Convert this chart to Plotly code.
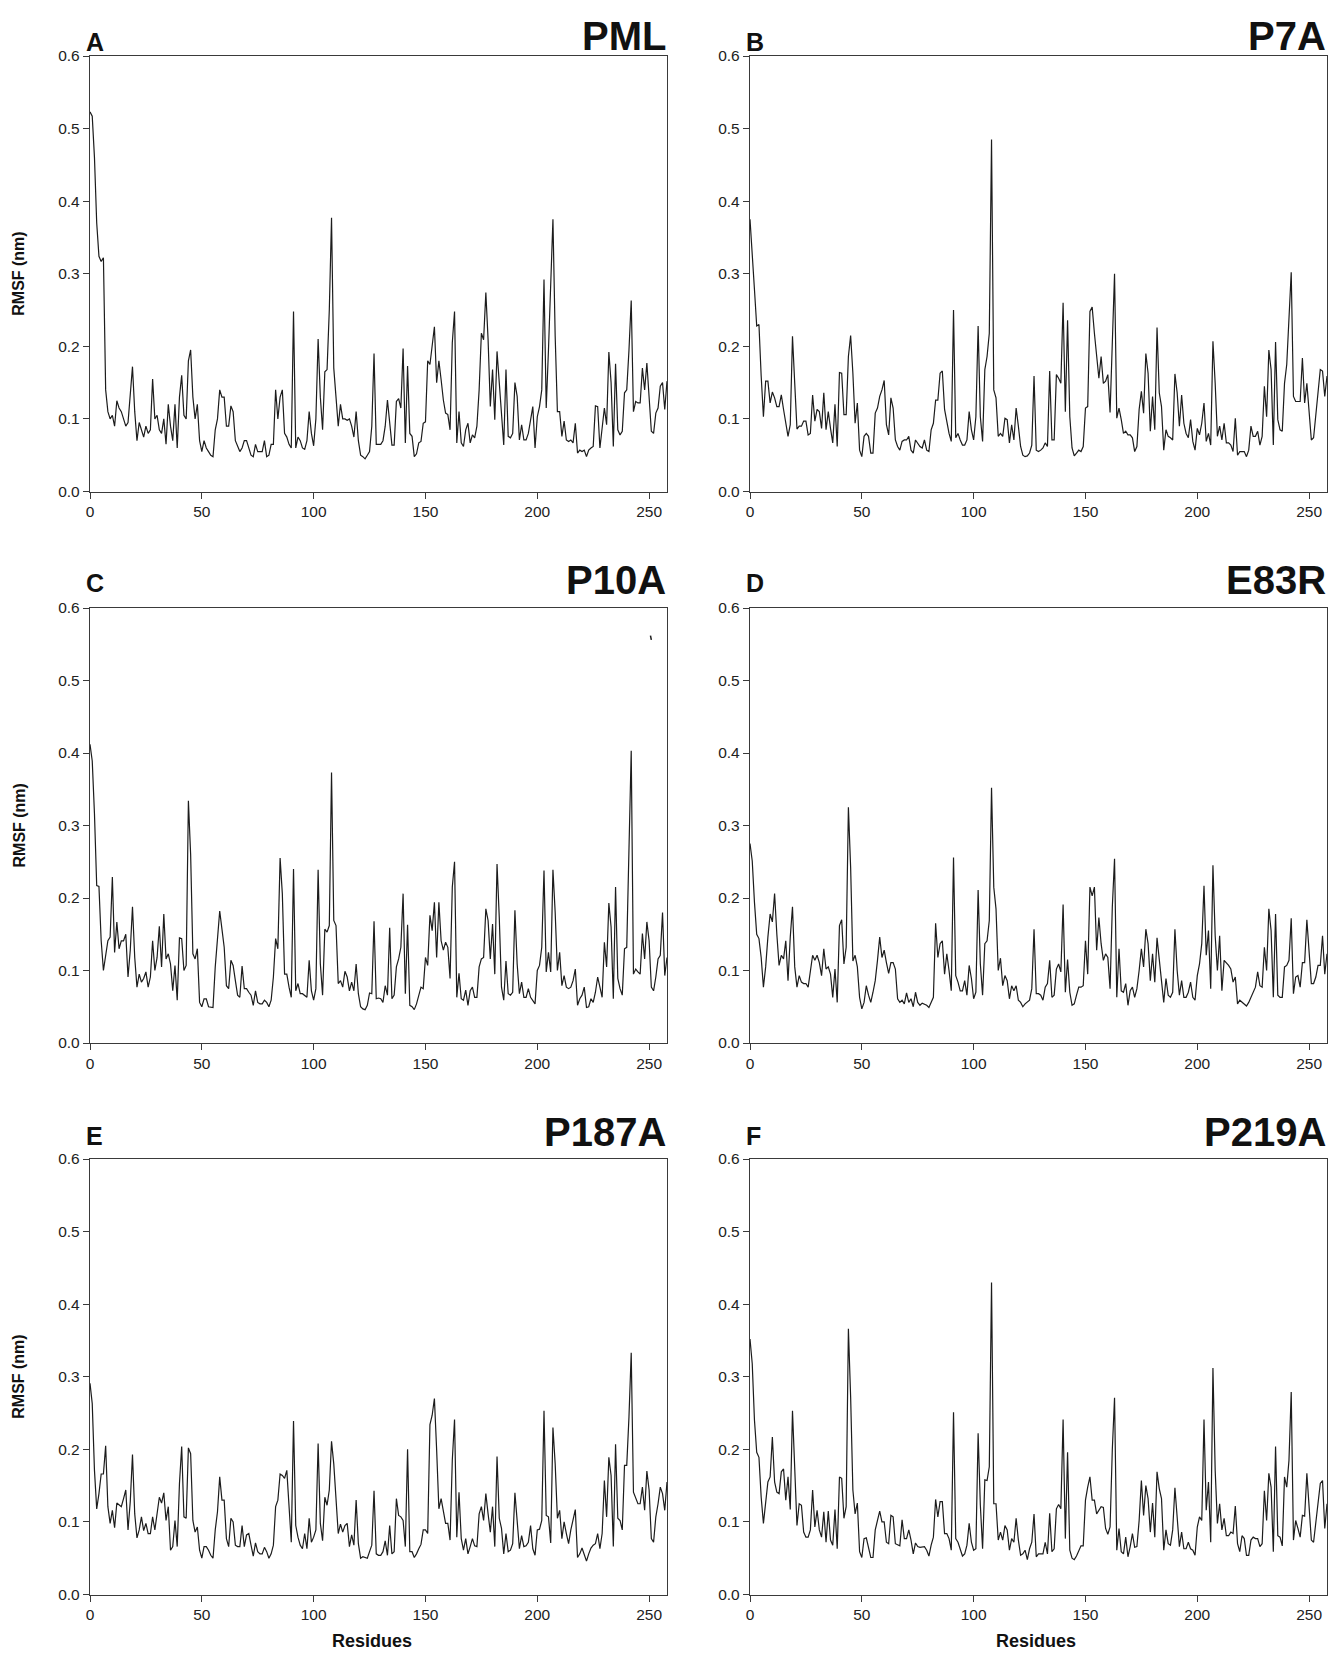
import plotly.graph_objects as go

# ---------------- data (RMSF in nm, per residue) ----------------
RESIDUES = list(range(0, 259))
X_TICKS = [0, 50, 100, 150, 200, 250]
Y_TICKS = [0.0, 0.1, 0.2, 0.3, 0.4, 0.5, 0.6]
Y_TICK_TEXT = ["0.0", "0.1", "0.2", "0.3", "0.4", "0.5", "0.6"]
PANEL_LETTERS = ["A", "B", "C", "D", "E", "F"]
PANEL_NAMES = ["PML", "P7A", "P10A", "E83R", "P187A", "P219A"]

PML = [
    0.523, 0.517, 0.46, 0.37, 0.324, 0.317, 0.322, 0.14, 0.11, 0.10,
    0.105, 0.09, 0.125, 0.115, 0.11, 0.10, 0.09, 0.095, 0.13, 0.172,
    0.11, 0.07, 0.095, 0.085, 0.075, 0.09, 0.08, 0.085, 0.155, 0.10,
    0.105, 0.085, 0.08, 0.10, 0.065, 0.12, 0.09, 0.07, 0.12, 0.06,
    0.13, 0.16, 0.105, 0.10, 0.18, 0.195, 0.13, 0.10, 0.12, 0.07,
    0.055, 0.07, 0.06, 0.055, 0.05, 0.048, 0.085, 0.10, 0.14, 0.13,
    0.13, 0.09, 0.09, 0.118, 0.11, 0.07, 0.062, 0.055, 0.06, 0.07,
    0.07, 0.06, 0.05, 0.048, 0.065, 0.055, 0.055, 0.055, 0.07, 0.048,
    0.05, 0.065, 0.065, 0.14, 0.10, 0.13, 0.14, 0.08, 0.075, 0.065,
    0.06, 0.248, 0.06, 0.075, 0.07, 0.06, 0.058, 0.07, 0.11, 0.08,
    0.063, 0.10, 0.21, 0.13, 0.085, 0.165, 0.168, 0.25, 0.377, 0.17,
    0.13, 0.09, 0.12, 0.10, 0.10, 0.098, 0.10, 0.09, 0.075, 0.11,
    0.07, 0.05, 0.048, 0.045, 0.05, 0.055, 0.09, 0.19, 0.065, 0.065,
    0.065, 0.07, 0.09, 0.126, 0.09, 0.064, 0.064, 0.124, 0.128, 0.115,
    0.197, 0.067, 0.173, 0.08, 0.076, 0.048, 0.052, 0.067, 0.069, 0.094,
    0.096, 0.18, 0.175, 0.20, 0.227, 0.15, 0.18, 0.154, 0.126, 0.108,
    0.106, 0.085, 0.205, 0.248, 0.067, 0.11, 0.067, 0.062, 0.085, 0.094,
    0.067, 0.078, 0.074, 0.090, 0.14, 0.218, 0.209, 0.274, 0.209, 0.117,
    0.168, 0.099, 0.193, 0.15, 0.103, 0.064, 0.168, 0.076, 0.074, 0.080,
    0.15, 0.131, 0.071, 0.092, 0.071, 0.071, 0.080, 0.099, 0.117, 0.06,
    0.103, 0.117, 0.14, 0.292, 0.115, 0.195, 0.274, 0.375, 0.214, 0.11,
    0.11, 0.076, 0.097, 0.071, 0.069, 0.071, 0.067, 0.094, 0.053, 0.057,
    0.055, 0.057, 0.048, 0.057, 0.060, 0.062, 0.118, 0.117, 0.06, 0.089,
    0.115, 0.092, 0.192, 0.15, 0.062, 0.176, 0.085, 0.078, 0.083, 0.136,
    0.14, 0.195, 0.263, 0.11, 0.124, 0.122, 0.122, 0.17, 0.14, 0.177,
    0.136, 0.083, 0.080, 0.108, 0.115, 0.145, 0.15, 0.113, 0.152,
]

P7A = [
    0.375, 0.333, 0.278, 0.228, 0.23, 0.159, 0.103, 0.152, 0.152, 0.122,
    0.137, 0.129, 0.117, 0.117, 0.133, 0.113, 0.097, 0.076, 0.092, 0.214,
    0.149, 0.086, 0.09, 0.09, 0.097, 0.097, 0.078, 0.08, 0.133, 0.097,
    0.113, 0.110, 0.087, 0.136, 0.085, 0.11, 0.087, 0.067, 0.12, 0.062,
    0.164, 0.163, 0.106, 0.106, 0.186, 0.215, 0.163, 0.094, 0.122, 0.057,
    0.048, 0.076, 0.08, 0.076, 0.053, 0.053, 0.108, 0.115, 0.131, 0.14,
    0.153, 0.092, 0.078, 0.129, 0.115, 0.071, 0.062, 0.057, 0.069, 0.071,
    0.071, 0.076, 0.057, 0.053, 0.071, 0.067, 0.062, 0.060, 0.071, 0.057,
    0.055, 0.085, 0.094, 0.126, 0.126, 0.163, 0.166, 0.113, 0.094, 0.08,
    0.069, 0.25, 0.074, 0.08, 0.071, 0.064, 0.064, 0.071, 0.11, 0.085,
    0.071, 0.103, 0.228, 0.103, 0.069, 0.168, 0.186, 0.218, 0.485, 0.14,
    0.129, 0.076, 0.08, 0.076, 0.101, 0.099, 0.067, 0.092, 0.071, 0.115,
    0.090, 0.062, 0.05, 0.048, 0.049, 0.053, 0.064, 0.159, 0.057, 0.055,
    0.057, 0.060, 0.067, 0.062, 0.166, 0.071, 0.071, 0.161, 0.156, 0.149,
    0.26, 0.11, 0.236, 0.103, 0.06, 0.049, 0.053, 0.057, 0.055, 0.062,
    0.115, 0.117, 0.248, 0.254, 0.218, 0.184, 0.156, 0.186, 0.149, 0.152,
    0.161, 0.109, 0.214, 0.30, 0.101, 0.115, 0.099, 0.08, 0.083, 0.078,
    0.078, 0.074, 0.055, 0.062, 0.113, 0.138, 0.108, 0.19, 0.163, 0.083,
    0.131, 0.085, 0.226, 0.136, 0.117, 0.057, 0.085, 0.076, 0.074, 0.071,
    0.162, 0.136, 0.09, 0.133, 0.094, 0.08, 0.074, 0.099, 0.069, 0.057,
    0.087, 0.078, 0.094, 0.122, 0.069, 0.08, 0.064, 0.207, 0.149, 0.076,
    0.090, 0.071, 0.094, 0.067, 0.067, 0.064, 0.055, 0.101, 0.05, 0.055,
    0.055, 0.055, 0.048, 0.057, 0.09, 0.076, 0.076, 0.083, 0.064, 0.076,
    0.145, 0.103, 0.195, 0.168, 0.064, 0.206, 0.099, 0.085, 0.083, 0.149,
    0.175, 0.232, 0.302, 0.131, 0.124, 0.124, 0.124, 0.184, 0.122, 0.149,
    0.113, 0.071, 0.074, 0.103, 0.131, 0.168, 0.166, 0.131, 0.159,
]

P10A = [
    0.412, 0.389, 0.316, 0.217, 0.216, 0.141, 0.10, 0.118, 0.141, 0.146,
    0.229, 0.125, 0.167, 0.13, 0.141, 0.141, 0.15, 0.091, 0.128, 0.188,
    0.118, 0.077, 0.095, 0.084, 0.089, 0.098, 0.077, 0.091, 0.141, 0.10,
    0.118, 0.161, 0.105, 0.178, 0.116, 0.123, 0.109, 0.072, 0.107, 0.059,
    0.145, 0.144, 0.10, 0.107, 0.334, 0.26, 0.123, 0.116, 0.13, 0.056,
    0.05, 0.061, 0.061, 0.05, 0.05, 0.049, 0.105, 0.141, 0.182, 0.157,
    0.132, 0.079, 0.075, 0.114, 0.107, 0.086, 0.066, 0.063, 0.106, 0.075,
    0.075, 0.07, 0.066, 0.052, 0.072, 0.056, 0.054, 0.054, 0.059, 0.056,
    0.05, 0.059, 0.091, 0.144, 0.13, 0.255, 0.206, 0.095, 0.095, 0.077,
    0.063, 0.24, 0.072, 0.082, 0.068, 0.068, 0.066, 0.063, 0.114, 0.072,
    0.059, 0.075, 0.239, 0.109, 0.066, 0.157, 0.153, 0.162, 0.373, 0.169,
    0.162, 0.082, 0.086, 0.077, 0.099, 0.091, 0.072, 0.084, 0.072, 0.109,
    0.068, 0.05, 0.047, 0.046, 0.052, 0.069, 0.068, 0.168, 0.061, 0.062,
    0.061, 0.056, 0.079, 0.066, 0.159, 0.061, 0.066, 0.105, 0.116, 0.132,
    0.206, 0.068, 0.163, 0.052, 0.05, 0.046, 0.054, 0.066, 0.077, 0.075,
    0.118, 0.107, 0.176, 0.155, 0.194, 0.118, 0.194, 0.141, 0.128, 0.139,
    0.132, 0.089, 0.215, 0.25, 0.063, 0.096, 0.061, 0.059, 0.073, 0.052,
    0.072, 0.077, 0.063, 0.063, 0.105, 0.116, 0.118, 0.185, 0.169, 0.116,
    0.164, 0.095, 0.247, 0.173, 0.077, 0.059, 0.113, 0.068, 0.066, 0.07,
    0.183, 0.109, 0.068, 0.084, 0.063, 0.063, 0.075, 0.063, 0.059, 0.054,
    0.10, 0.107, 0.132, 0.238, 0.098, 0.125, 0.098, 0.239, 0.18, 0.10,
    0.125, 0.079, 0.093, 0.077, 0.075, 0.077, 0.086, 0.102, 0.052, 0.061,
    0.066, 0.077, 0.049, 0.05, 0.061, 0.056, 0.07, 0.091, 0.077, 0.063,
    0.139, 0.105, 0.193, 0.16, 0.061, 0.215, 0.089, 0.075, 0.066, 0.13,
    0.132, 0.265, 0.403, 0.095, 0.102, 0.098, 0.095, 0.151, 0.116, 0.167,
    0.141, 0.077, 0.072, 0.091, 0.116, 0.121, 0.18, 0.093, 0.118,
]
# small stray mark visible in panel C
P10A_MARK_X = [250.6, 251.0]
P10A_MARK_Y = [0.562, 0.556]

E83R = [
    0.275, 0.251, 0.194, 0.15, 0.144, 0.118, 0.077, 0.105, 0.146, 0.178,
    0.167, 0.206, 0.15, 0.107, 0.121, 0.116, 0.141, 0.086, 0.146, 0.188,
    0.105, 0.077, 0.093, 0.084, 0.082, 0.082, 0.077, 0.10, 0.121, 0.114,
    0.121, 0.111, 0.093, 0.13, 0.102, 0.105, 0.095, 0.063, 0.102, 0.056,
    0.162, 0.17, 0.109, 0.132, 0.325, 0.242, 0.113, 0.121, 0.105, 0.063,
    0.047, 0.056, 0.079, 0.066, 0.056, 0.07, 0.086, 0.114, 0.146, 0.118,
    0.128, 0.111, 0.096, 0.111, 0.111, 0.102, 0.061, 0.056, 0.059, 0.054,
    0.069, 0.056, 0.061, 0.05, 0.07, 0.056, 0.052, 0.055, 0.054, 0.052,
    0.049, 0.056, 0.063, 0.165, 0.118, 0.137, 0.141, 0.095, 0.123, 0.10,
    0.072, 0.256, 0.093, 0.084, 0.072, 0.072, 0.086, 0.066, 0.107, 0.089,
    0.061, 0.07, 0.211, 0.109, 0.066, 0.137, 0.141, 0.169, 0.352, 0.215,
    0.185, 0.10, 0.117, 0.079, 0.093, 0.086, 0.061, 0.079, 0.072, 0.079,
    0.059, 0.056, 0.05, 0.054, 0.056, 0.059, 0.075, 0.157, 0.068, 0.068,
    0.066, 0.059, 0.077, 0.082, 0.114, 0.063, 0.066, 0.102, 0.109, 0.098,
    0.191, 0.07, 0.115, 0.07, 0.052, 0.054, 0.066, 0.077, 0.077, 0.079,
    0.141, 0.095, 0.215, 0.203, 0.215, 0.128, 0.173, 0.137, 0.114, 0.123,
    0.118, 0.075, 0.187, 0.254, 0.063, 0.13, 0.072, 0.070, 0.082, 0.052,
    0.072, 0.077, 0.063, 0.075, 0.10, 0.13, 0.105, 0.157, 0.137, 0.086,
    0.123, 0.084, 0.145, 0.116, 0.084, 0.056, 0.089, 0.066, 0.063, 0.07,
    0.157, 0.10, 0.066, 0.086, 0.063, 0.063, 0.07, 0.084, 0.063, 0.059,
    0.093, 0.109, 0.137, 0.217, 0.121, 0.155, 0.075, 0.245, 0.148, 0.10,
    0.148, 0.072, 0.114, 0.111, 0.107, 0.102, 0.084, 0.091, 0.054, 0.059,
    0.056, 0.054, 0.051, 0.056, 0.063, 0.068, 0.077, 0.098, 0.079, 0.077,
    0.132, 0.10, 0.185, 0.155, 0.063, 0.178, 0.066, 0.063, 0.063, 0.105,
    0.107, 0.114, 0.172, 0.068, 0.091, 0.093, 0.077, 0.111, 0.111, 0.17,
    0.132, 0.082, 0.082, 0.091, 0.107, 0.107, 0.148, 0.095, 0.123,
]

P187A = [
    0.291, 0.263, 0.171, 0.118, 0.139, 0.166, 0.166, 0.205, 0.121, 0.098,
    0.116, 0.092, 0.126, 0.123, 0.121, 0.132, 0.144, 0.089, 0.128, 0.193,
    0.111, 0.078, 0.089, 0.107, 0.088, 0.098, 0.084, 0.084, 0.107, 0.089,
    0.111, 0.134, 0.126, 0.14, 0.102, 0.121, 0.061, 0.066, 0.102, 0.066,
    0.153, 0.204, 0.107, 0.105, 0.202, 0.194, 0.102, 0.086, 0.093, 0.061,
    0.05, 0.066, 0.066, 0.061, 0.054, 0.05, 0.089, 0.114, 0.162, 0.13,
    0.13, 0.077, 0.066, 0.105, 0.10, 0.068, 0.066, 0.066, 0.095, 0.066,
    0.082, 0.084, 0.068, 0.053, 0.071, 0.059, 0.056, 0.056, 0.065, 0.059,
    0.05, 0.056, 0.068, 0.121, 0.13, 0.166, 0.164, 0.16, 0.171, 0.125,
    0.072, 0.239, 0.095, 0.079, 0.068, 0.063, 0.084, 0.063, 0.105, 0.072,
    0.079, 0.089, 0.208, 0.098, 0.074, 0.134, 0.123, 0.144, 0.211, 0.18,
    0.134, 0.084, 0.097, 0.086, 0.095, 0.098, 0.066, 0.082, 0.068, 0.13,
    0.070, 0.05, 0.052, 0.051, 0.05, 0.059, 0.068, 0.143, 0.056, 0.054,
    0.054, 0.059, 0.074, 0.054, 0.095, 0.056, 0.059, 0.132, 0.109, 0.107,
    0.102, 0.066, 0.20, 0.059, 0.059, 0.051, 0.056, 0.063, 0.069, 0.089,
    0.089, 0.084, 0.234, 0.247, 0.27, 0.199, 0.118, 0.132, 0.116, 0.098,
    0.098, 0.075, 0.185, 0.241, 0.079, 0.141, 0.077, 0.061, 0.077, 0.056,
    0.066, 0.077, 0.067, 0.066, 0.111, 0.121, 0.102, 0.139, 0.111, 0.086,
    0.121, 0.066, 0.19, 0.105, 0.091, 0.056, 0.084, 0.059, 0.061, 0.070,
    0.14, 0.102, 0.063, 0.081, 0.066, 0.067, 0.072, 0.095, 0.063, 0.054,
    0.089, 0.09, 0.102, 0.253, 0.109, 0.107, 0.071, 0.23, 0.18, 0.105,
    0.116, 0.077, 0.10, 0.084, 0.070, 0.089, 0.102, 0.117, 0.051, 0.056,
    0.064, 0.056, 0.046, 0.056, 0.064, 0.068, 0.070, 0.084, 0.063, 0.084,
    0.157, 0.107, 0.189, 0.164, 0.066, 0.207, 0.105, 0.102, 0.089, 0.178,
    0.178, 0.245, 0.333, 0.141, 0.132, 0.125, 0.125, 0.148, 0.116, 0.17,
    0.144, 0.077, 0.072, 0.107, 0.125, 0.148, 0.139, 0.116, 0.155,
]

P219A = [
    0.352, 0.318, 0.24, 0.196, 0.189, 0.134, 0.098, 0.125, 0.155, 0.162,
    0.217, 0.155, 0.141, 0.139, 0.169, 0.173, 0.13, 0.162, 0.117, 0.253,
    0.171, 0.095, 0.125, 0.123, 0.086, 0.079, 0.079, 0.089, 0.144, 0.093,
    0.116, 0.089, 0.079, 0.114, 0.072, 0.115, 0.075, 0.068, 0.117, 0.063,
    0.162, 0.16, 0.105, 0.121, 0.366, 0.272, 0.144, 0.111, 0.126, 0.059,
    0.051, 0.077, 0.078, 0.063, 0.051, 0.051, 0.089, 0.102, 0.115, 0.10,
    0.10, 0.072, 0.070, 0.109, 0.107, 0.070, 0.068, 0.067, 0.103, 0.077,
    0.077, 0.089, 0.075, 0.056, 0.071, 0.066, 0.065, 0.065, 0.066, 0.061,
    0.053, 0.068, 0.079, 0.131, 0.107, 0.128, 0.128, 0.084, 0.084, 0.077,
    0.061, 0.251, 0.077, 0.072, 0.063, 0.053, 0.056, 0.068, 0.098, 0.072,
    0.061, 0.063, 0.222, 0.123, 0.063, 0.158, 0.157, 0.176, 0.43, 0.125,
    0.125, 0.075, 0.086, 0.075, 0.095, 0.089, 0.061, 0.077, 0.072, 0.105,
    0.075, 0.054, 0.056, 0.061, 0.048, 0.063, 0.072, 0.111, 0.052, 0.056,
    0.056, 0.056, 0.072, 0.056, 0.112, 0.059, 0.063, 0.118, 0.124, 0.118,
    0.241, 0.077, 0.196, 0.061, 0.05, 0.048, 0.053, 0.059, 0.067, 0.067,
    0.13, 0.148, 0.162, 0.13, 0.13, 0.111, 0.116, 0.121, 0.120, 0.091,
    0.083, 0.093, 0.199, 0.271, 0.061, 0.091, 0.059, 0.056, 0.079, 0.052,
    0.066, 0.084, 0.065, 0.066, 0.102, 0.157, 0.109, 0.15, 0.132, 0.086,
    0.126, 0.079, 0.169, 0.146, 0.132, 0.061, 0.089, 0.070, 0.068, 0.089,
    0.147, 0.105, 0.066, 0.086, 0.063, 0.063, 0.072, 0.063, 0.061, 0.054,
    0.093, 0.107, 0.102, 0.241, 0.116, 0.155, 0.072, 0.312, 0.171, 0.098,
    0.125, 0.089, 0.105, 0.081, 0.081, 0.086, 0.084, 0.122, 0.070, 0.059,
    0.081, 0.077, 0.054, 0.054, 0.075, 0.079, 0.077, 0.077, 0.066, 0.070,
    0.143, 0.102, 0.167, 0.148, 0.059, 0.204, 0.081, 0.079, 0.067, 0.162,
    0.148, 0.185, 0.279, 0.075, 0.102, 0.091, 0.079, 0.109, 0.108, 0.167,
    0.125, 0.075, 0.072, 0.102, 0.130, 0.153, 0.157, 0.091, 0.125,
]

SERIES = [PML, P7A, P10A, E83R, P187A, P219A]

# ---------------- layout helpers (pixel geometry) ----------------
W, H = 1333, 1654
COLS = [(90, 667), (750, 1327)]
ROWS = [(56, 491.5), (608, 1043), (1159, 1594.5)]
LETTER_Y = [42, 583, 1136]
NAME_Y = [36, 580, 1132]

def px(x):
    return x / W

def py(y):
    return 1 - y / H

FONT = "Liberation Sans, Arial, Helvetica, sans-serif"
AXIS_COLOR = "#3a3a3a"
LINE_COLOR = "#1c1c1c"

fig = go.Figure()
layout = dict(
    width=W, height=H, autosize=False,
    margin=dict(l=0, r=0, t=0, b=0, pad=0, autoexpand=False),
    paper_bgcolor="white", plot_bgcolor="white",
    showlegend=False,
    font=dict(family=FONT, color="#222"),
)
annotations = []

for i, vals in enumerate(SERIES):
    row, col = divmod(i, 2)
    n = i + 1
    xa = "x" if n == 1 else f"x{n}"
    ya = "y" if n == 1 else f"y{n}"
    xs = RESIDUES[:len(vals)]
    fig.add_trace(go.Scatter(x=xs, y=vals, mode="lines",
                             line=dict(color=LINE_COLOR, width=1.2),
                             xaxis=xa, yaxis=ya, hoverinfo="x+y"))
    if PANEL_NAMES[i] == "P10A":
        fig.add_trace(go.Scatter(x=P10A_MARK_X, y=P10A_MARK_Y, mode="lines",
                                 line=dict(color=LINE_COLOR, width=1.5),
                                 xaxis=xa, yaxis=ya, hoverinfo="skip"))
    x0, x1 = COLS[col]
    y0, y1 = ROWS[row]
    axis_common = dict(
        showline=True, linecolor=AXIS_COLOR, linewidth=1.4, mirror=True,
        ticks="outside", ticklen=6, tickwidth=1.2, tickcolor=AXIS_COLOR,
        showgrid=False, zeroline=False, automargin=False,
        tickfont=dict(family=FONT, size=15.5, color="#222"),
    )
    layout["xaxis" if n == 1 else f"xaxis{n}"] = dict(
        domain=[px(x0), px(x1)], range=[0, 258], tickvals=X_TICKS,
        anchor=ya, **axis_common)
    layout["yaxis" if n == 1 else f"yaxis{n}"] = dict(
        domain=[py(y1), py(y0)], range=[0, 0.6], tickvals=Y_TICKS,
        ticktext=Y_TICK_TEXT, anchor=xa, **axis_common)

    annotations.append(dict(
        text=f"<b>{PANEL_LETTERS[i]}</b>", xref="paper", yref="paper",
        x=px(x0 - 6), y=py(LETTER_Y[row]), xanchor="left", yanchor="middle",
        showarrow=False, font=dict(family=FONT, size=25, color="#111")))
    annotations.append(dict(
        text=f"<b>{PANEL_NAMES[i]}</b>", xref="paper", yref="paper",
        x=px(x1 + 1), y=py(NAME_Y[row]), xanchor="right", yanchor="middle",
        showarrow=False, font=dict(family=FONT, size=40, color="#111")))

for row in range(3):
    y0, y1 = ROWS[row]
    annotations.append(dict(
        text="<b>RMSF (nm)</b>", xref="paper", yref="paper",
        x=px(19), y=py((y0 + y1) / 2), xanchor="center", yanchor="middle",
        textangle=-90, showarrow=False,
        font=dict(family=FONT, size=16, color="#111")))

for cx in (372, 1036):
    annotations.append(dict(
        text="<b>Residues</b>", xref="paper", yref="paper",
        x=px(cx), y=py(1641), xanchor="center", yanchor="middle",
        showarrow=False, font=dict(family=FONT, size=18, color="#111")))

layout["annotations"] = annotations
fig.update_layout(**layout)
fig.write_html("out.html")
